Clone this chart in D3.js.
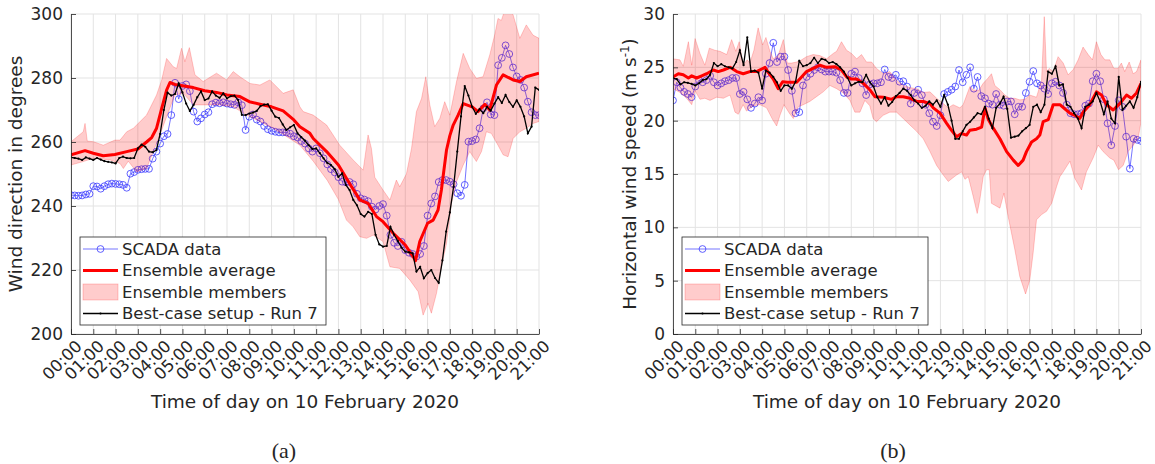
<!DOCTYPE html>
<html><head><meta charset="utf-8">
<script src="https://cdn.jsdelivr.net/npm/d3@7/dist/d3.min.js"></script>
<style>
body{margin:0;background:#fff}
svg{display:block}
text{font-family:"DejaVu Sans",sans-serif;fill:#262626}
</style>
</head><body>
<svg id="c" width="1155" height="464"></svg>
<script>
// ---------------- DATA ----------------
const timeLabels = ["00:00","01:00","02:00","03:00","04:00","05:00","06:00","07:00","08:00","09:00","10:00",
  "11:00","12:00","13:00","14:00","15:00","16:00","17:00","18:00","19:00","20:00","21:00"];
const dirTicks = [200,220,240,260,280,300];
const spdTicks = [0,5,10,15,20,25,30];

// 10-minute series (00:00 ... 21:00)
const scadaDir = [243.4,243.3,243.2,243.3,243.6,243.8, 246.2,246.1,245.4,246.2,246.8,247.0,
  246.9,246.8,246.6,245.7,250.1,250.6, 251.3,251.5,251.6,251.6,254.8,257.0,
  259.5,261.8,262.5,268.4,278.5,273.4, 277.5,278.0,275.9,269.5,266.4,267.4,
  268.6,269.3,271.8,272.3,272.1,272.4, 272.0,271.8,271.6,272.4,271.5,263.75,
  267.9,268.6,267.0,266.4,265.0,264.0, 263.5,263.2,263.0,263.0,263.0,262.6,
  261.8,261.4,260.3,259.5,258.0,257.0, 258.0,256.5,254.9,253.0,251.5,250.5,
  249.0,247.6,247.4,247.5,246.8,243.8, 242.4,242.0,241.5,239.8,238.9,240.0,
  240.6,237.0,231.0,228.5,227.5,228.8, 226.2,225.4,225.0,224.2,225.0,227.5,
  237.0,240.8,243.0,247.5,248.1,248.1, 247.6,246.8,244.0,243.2,246.6,260.1,
  260.3,260.8,264.3,270.5,272.4,268.6, 268.4,284.0,286.3,290.2,287.5,283.3,
  280.5,279.4,277.0,272.6,269.3,268.4,268.4];
const run7Dir = [255.2,255.0,254.8,254.4,255.2,254.8, 254.4,255.0,254.5,254.0,253.8,253.6,
  253.3,255.0,255.4,255.0,254.9,255.0, 258.0,259.2,258.5,257.0,256.8,257.5,
  262.5,270.0,275.4,274.5,275.0,278.3, 275.5,272.0,269.7,271.6,274.0,275.8,
  273.1,273.6,275.8,274.5,273.8,275.2, 273.6,274.3,274.5,273.1,268.5,268.4,
  268.9,269.2,269.7,271.2,271.7,271.8, 269.8,267.9,267.5,265.5,263.75,264.6,
  265.3,262.7,261.5,260.4,259.0,257.8, 258.0,256.5,254.9,253.5,252.8,251.5,
  249.1,250.2,246.6,245.0,241.9,240.2, 237.5,236.7,238.2,237.5,231.0,228.0,
  227.3,227.5,233.5,231.0,229.0,227.0, 225.7,225.5,225.2,219.5,221.0,217.4,
  219.0,220.0,217.5,216.0,223.0,232.0, 238.0,246.0,257.0,268.0,277.5,274.5,
  271.0,268.8,270.3,269.0,271.0,269.8, 272.0,274.0,272.2,274.7,272.5,271.0,
  273.0,271.0,268.0,262.7,264.8,277.0,276.3];
const scadaSpd = [21.9,23.6,23.1,22.7,22.5,22.2, 23.2,23.8,23.6,23.8,24.2,23.6,
  23.3,23.5,23.7,23.8,24.0,24.0, 22.5,22.7,22.0,21.2,21.6,22.2,
  21.9,24.4,25.4,27.3,25.5,26.0, 26.0,24.75,22.8,20.7,20.8,23.3,
  24.1,24.4,24.75,25.0,24.8,24.6, 24.6,24.6,24.5,23.8,22.6,22.6,
  24.4,24.6,24.0,23.5,22.4,23.4, 23.5,23.5,23.6,24.8,24.1,24.0,
  24.3,23.65,23.7,23.2,21.6,22.6, 22.9,22.4,21.5,20.7,19.9,19.5,
  20.5,22.5,22.7,22.9,23.2,24.75, 23.6,24.3,25.0,23.0,24.1,22.3,
  22.1,21.6,21.5,22.5,21.5,21.4, 21.8,21.8,20.6,21.3,21.3,22.6,
  23.65,24.65,23.5,23.3,23.0,22.5, 23.5,23.65,23.3,22.6,21.5,20.7,
  20.6,20.6,20.7,21.4,21.6,23.7, 24.4,23.7,22.0,19.75,17.7,19.5,
  21.9,21.3,18.5,15.5,18.3,18.2,18.1];
const run7Spd = [24.0,23.9,23.4,23.6,23.55,23.45, 23.3,23.5,23.8,23.9,24.3,25.4,
  25.1,25.3,25.1,25.0,24.9,25.5, 26.6,25.2,27.8,24.6,24.7,24.5,
  23.0,24.7,24.5,24.1,23.6,22.8, 23.3,23.3,23.0,23.65,25.6,25.1,
  25.2,25.4,25.9,25.4,25.8,25.7, 25.4,25.5,25.3,25.0,24.6,24.0,
  23.3,23.5,23.65,23.6,24.3,23.6, 23.2,22.2,21.6,22.2,21.4,21.75,
  22.3,22.6,23.0,22.8,22.4,21.9, 21.6,21.2,21.4,21.8,21.5,21.9,
  21.3,22.4,21.5,20.0,18.3,18.3, 19.0,19.6,19.9,20.3,20.7,20.6,
  21.3,20.2,19.3,21.2,21.6,22.25, 21.1,18.4,18.5,18.6,19.0,19.3,
  19.6,21.3,21.5,20.8,21.5,24.6, 24.4,25.1,23.3,23.4,21.5,21.3,
  20.7,20.2,19.3,21.3,21.5,21.8, 22.6,21.8,20.6,21.8,20.2,19.75,
  24.1,21.0,21.4,21.8,21.2,22.2,23.65];

// Ensemble (times in hours)
const ensAvgDirT = [0,0.63,1.0,1.45,1.97,2.5,3.0,3.39,3.62,3.84,4.07,4.29,4.44,4.66,5.0,5.49,6.0,6.53,7.0,7.58,8.0,8.48,9.0,9.52,10.0,10.27,10.72,10.87,11.47,12.0,12.5,12.96,13.33,13.71,14.0,14.46,15.0,15.35,15.46,15.65,16.0,16.25,16.47,16.62,16.73,16.85,17.0,17.15,17.37,17.6,18.0,18.27,18.57,18.79,19.09,19.39,19.84,20.14,20.43,21.0];
const ensAvgDir = [256,257.3,256.5,255.7,256.1,257,257.8,260,261.4,264.3,270.5,276.2,278.6,278,277.6,277,276,275.5,274.7,274.2,272.6,271.8,271,269.7,266.9,264.8,262.7,261.1,257,252.8,247,241.9,240.8,236.7,235.1,231.5,227.8,224.2,222.9,228.9,234.6,235.6,238.75,245,251,257.5,262,265.3,268.4,272,271,269.5,271.8,270,277.8,281,279.4,278.9,280.4,281.5];
const ensMaxDirT = [0,0.55,0.63,0.73,1.0,1.45,1.97,2.2,2.5,2.8,3.39,3.84,4.07,4.29,4.59,4.74,4.96,5.11,5.31,5.56,5.93,6.53,6.98,7.28,7.58,8.03,8.48,8.92,9.52,9.97,10.27,10.42,10.87,11.47,12.06,12.66,13.11,13.33,13.48,13.63,14.0,14.31,14.6,14.75,15.05,15.28,15.5,15.73,15.92,16.1,16.32,16.55,16.77,17.0,17.3,17.6,17.89,18.19,18.49,18.79,19.01,19.16,19.31,19.54,19.84,20.14,20.43,20.73,21.0];
const ensMaxDir = [260.1,263.2,265.8,260.3,260.1,259,260.6,260.6,263.2,264.3,268.4,274.7,279.4,286.1,283.5,283,289.3,285.1,289.5,281,278.9,281.5,279.4,282,280.4,278.3,277.8,279.4,275.2,276.3,271,269.5,268.4,265.3,259,254.4,251.2,262.2,258,249,245,241.9,248.1,246,250,258,269.5,273.6,280.4,271.6,264.8,267.4,272.6,268.4,278.9,287.7,283,279.9,280.4,287.2,293.4,298.6,298,302.8,299.7,292.4,296.6,293.4,292.4];
const ensMinDirT = [0,0.55,1.0,1.75,2.2,2.35,2.57,2.94,3.39,3.69,3.99,4.29,4.66,5.04,5.49,5.93,6.68,7.28,7.88,8.48,9.07,9.67,10.27,10.87,11.5,12.0,12.36,12.66,12.96,13.26,13.56,14.0,14.31,14.75,15.2,15.58,15.8,16.02,16.17,16.4,16.62,16.85,17.07,17.3,17.6,17.89,18.19,18.42,18.64,18.86,19.16,19.39,19.61,19.84,20.14,20.43,20.73,21.0];
const ensMinDir = [252.8,253.9,254.9,254.4,253.3,251.7,254.0,250.7,251.7,257,262.2,267.9,274.7,275.2,271.6,271.6,271.6,271,268.4,266.4,264.3,261.7,259,254,248,242,235.6,233.5,230.4,229.9,230.9,228.9,221,220.5,216.9,213.2,205.9,209.6,206.5,212.7,221,228.3,240.8,247.6,252.8,257,253.9,257,263.2,262.7,259,256,255.4,261.1,263.2,264.3,265.8,266.4];

const ensAvgSpdT = [0,0.24,0.46,0.69,0.84,1.06,1.29,1.51,1.81,2.03,2.26,2.56,2.86,3.15,3.45,3.75,4.13,4.28,4.5,4.72,4.92,5.13,5.32,5.55,5.77,5.99,6.29,6.59,6.89,7.26,7.56,7.79,8.01,8.24,8.54,8.83,9.06,9.43,9.81,10.03,10.33,10.63,10.93,11.23,11.53,11.68,11.98,12.28,12.5,12.72,12.95,13.17,13.32,13.62,13.85,14.0,14.15,14.37,14.67,14.97,15.27,15.49,15.71,15.86,16.09,16.31,16.46,16.61,16.84,17.06,17.36,17.58,17.81,18.03,18.25,18.4,18.7,19.0,19.23,19.45,19.75,20.05,20.35,20.57,20.8,21.0];
const ensAvgSpd = [24.1,24.4,24.3,24.0,24.2,24.0,24.2,24.4,24.75,24.6,24.75,25.0,24.6,24.4,24.6,24.6,25.0,24.5,23.9,23.0,23.65,23.6,23.6,23.6,24.1,24.6,24.9,25.2,25.0,25.06,24.75,24.1,23.9,23.9,23.5,22.9,22.25,22.2,22.0,22.25,22.25,22.1,21.8,21.8,21.6,21.2,20.7,19.75,19.1,18.5,18.8,18.65,19.1,19.2,19.4,21.2,20.1,19.3,18.3,17.1,16.3,15.8,16.3,17.1,18.0,18.3,18.65,19.9,20.1,21.5,21.5,21.1,20.7,20.5,20.2,20.8,21.5,22.7,22.4,21.5,21.0,21.6,22.4,22.1,22.6,23.5];
const ensMaxSpdT = [0,0.31,0.46,0.69,0.84,0.99,1.21,1.43,1.63,1.88,2.11,2.41,2.63,2.82,2.97,3.15,3.33,3.45,3.63,3.82,4.02,4.17,4.35,4.5,4.72,4.95,5.13,5.32,5.55,5.77,5.99,6.29,6.59,6.89,7.19,7.34,7.56,7.79,8.01,8.24,8.46,8.68,8.91,9.13,9.43,9.73,10.03,10.33,10.63,10.93,11.23,11.53,11.83,12.13,12.35,12.57,12.87,13.02,13.25,13.32,13.47,13.7,13.92,14.14,14.29,14.44,14.67,14.89,15.12,15.34,15.56,15.79,16.01,16.31,16.54,16.66,16.76,16.88,17.06,17.28,17.51,17.73,17.96,18.18,18.4,18.63,18.82,19.0,19.2,19.38,19.6,19.78,19.97,20.12,20.27,20.47,20.65,20.8,21.0];
const ensMaxSpd = [25.8,25.7,25.1,27.4,25.2,27.7,26.3,25.2,26.8,26.6,26.5,26.2,27.6,26.5,27.4,25.2,25.7,25.4,26.6,28.7,27.1,27.8,26.5,25.8,26.1,27.6,25.4,25.4,25.5,25.7,26.0,26.2,26.1,25.8,26.3,26.5,27.4,26.6,26.3,25.8,26.2,25.5,25.5,24.9,24.4,24.6,23.8,23.3,23.1,23.0,22.65,22.7,22.1,21.6,21.2,21.5,21.2,21.5,22.8,23.2,22.9,22.8,23.5,24.0,24.4,23.3,22.9,22.4,22.1,22.1,21.95,22.0,22.4,22.2,23.8,29.75,24.6,24.9,24.6,26.0,25.4,24.3,24.8,25.7,26.9,26.2,25.7,27.4,26.2,25.7,25.7,24.9,24.9,25.4,24.6,25.5,24.4,24.6,25.7];
const ensMinSpdT = [0,0.31,0.61,0.84,0.99,1.21,1.43,1.66,1.96,2.26,2.56,2.78,2.93,3.15,3.3,3.6,3.9,4.2,4.47,4.65,4.8,4.98,5.22,5.4,5.62,5.85,6.14,6.44,6.74,7.04,7.34,7.64,7.94,8.16,8.39,8.61,8.83,8.98,9.13,9.43,9.73,10.03,10.33,10.63,10.93,11.23,11.53,11.83,12.13,12.35,12.72,12.95,13.1,13.25,13.47,13.65,13.77,13.92,14.07,14.19,14.29,14.67,14.85,15.04,15.34,15.56,15.82,16.01,16.16,16.31,16.54,16.76,16.99,17.21,17.36,17.51,17.81,18.03,18.33,18.55,18.85,19.08,19.3,19.6,19.78,19.99,20.2,20.42,20.65,20.87,21.0];
const ensMinSpd = [23.0,22.65,22.1,21.5,22.8,22.0,22.1,21.9,22.2,22.1,22.4,20.8,20.6,21.5,20.9,21.4,21.5,21.2,20.1,19.5,20.5,21.5,20.7,20.2,21.3,21.5,21.8,22.25,22.7,23.3,23.0,22.6,21.9,20.8,20.8,21.9,21.4,20.2,19.9,20.5,20.8,20.8,20.2,19.6,19.0,18.3,17.1,15.8,14.9,14.3,14.9,15.2,14.5,14.75,12.9,11.3,12.6,14.75,15.4,15.4,12.25,11.8,13.2,11.0,7.9,5.4,3.75,5.06,7.6,10.7,11.2,11.5,12.25,13.8,14.75,15.2,16.2,14.6,13.5,15.2,16.5,17.7,17.1,16.5,16.3,15.4,15.8,17.1,17.7,18.3,19.9];

const legendLabels = ["SCADA data","Ensemble average","Ensemble members","Best-case setup - Run 7"];
const xTitle = "Time of day on 10 February 2020";

// ---------------- DRAW ----------------
const svg = d3.select('#c');
const AX = '#262626';
const TOP = 14, BOT = 334, W = 468;

function zip(t, v){ return t.map((d,i)=>[d, v[i]]); }
function tenMin(v){ return v.map((d,i)=>[i/6, d]); }

function panel(o){
  const x = d3.scaleLinear().domain([0,21]).range([o.left, o.left + W]);
  const y = d3.scaleLinear().domain([o.ticks[0], o.ticks[o.ticks.length-1]]).range([BOT, TOP]);
  const g = svg.append('g');
  const cid = 'clip' + o.id;
  svg.append('clipPath').attr('id', cid).append('rect')
    .attr('x', o.left).attr('y', TOP).attr('width', W).attr('height', BOT - TOP);

  // grid
  const grid = g.append('g').attr('stroke', '#e3e3e3').attr('stroke-width', 1);
  grid.selectAll('line.v').data(d3.range(timeLabels.length)).join('line')
    .attr('x1', d => x(d)).attr('x2', d => x(d)).attr('y1', TOP).attr('y2', BOT);
  grid.selectAll('line.h').data(o.ticks).join('line')
    .attr('x1', o.left).attr('x2', o.left + W).attr('y1', d => y(d)).attr('y2', d => y(d));

  const plot = g.append('g').attr('clip-path', `url(#${cid})`);
  const line = d3.line().x(d => x(d[0])).y(d => y(d[1]));

  // SCADA
  const sc = tenMin(o.scada);
  plot.append('path').attr('d', line(sc)).attr('fill', 'none').attr('stroke', '#3a3aff').attr('stroke-width', 0.7);
  plot.selectAll('circle.sc').data(sc).join('circle')
    .attr('cx', d => x(d[0])).attr('cy', d => y(d[1])).attr('r', 3.4)
    .attr('fill', 'none').attr('stroke', '#3a3aff').attr('stroke-width', 0.8);

  // ensemble average
  plot.append('path').attr('d', line(zip(o.avgT, o.avg))).attr('fill', 'none')
    .attr('stroke', '#ff0000').attr('stroke-width', 3).attr('stroke-linejoin', 'round');

  // ensemble band
  const band = zip(o.maxT, o.max).concat(zip(o.minT, o.min).reverse());
  plot.append('path').attr('d', line(band) + 'Z').attr('fill', '#ff0000').attr('fill-opacity', 0.2)
    .attr('stroke', '#ff0000').attr('stroke-opacity', 0.25).attr('stroke-width', 0.8);

  // run 7
  const r7 = tenMin(o.run7);
  plot.append('path').attr('d', line(r7)).attr('fill', 'none').attr('stroke', '#000').attr('stroke-width', 1.3);
  plot.selectAll('circle.r7').data(r7).join('circle')
    .attr('cx', d => x(d[0])).attr('cy', d => y(d[1])).attr('r', 1.1).attr('fill', '#000');

  // axes
  const xa = g.append('g').attr('transform', `translate(0,${BOT})`)
    .call(d3.axisBottom(x).tickValues(d3.range(timeLabels.length)).tickFormat((d,i) => timeLabels[i])
      .tickSizeInner(-5).tickSizeOuter(0));
  xa.select('.domain').attr('stroke', AX).attr('stroke-width', 0.8);
  xa.selectAll('.tick line').attr('stroke', AX).attr('stroke-width', 0.8);
  xa.selectAll('.tick text').attr('x', 0).attr('y', 0).attr('dy', '0.72em')
    .attr('text-anchor', 'end').attr('transform', 'translate(3,5) rotate(-45)')
    .style('font-size', '16.5px').style('font-family', '"DejaVu Sans",sans-serif').attr('fill', AX);

  const ya = g.append('g').attr('transform', `translate(${o.left},0)`)
    .call(d3.axisLeft(y).tickValues(o.ticks).tickSizeInner(-5).tickSizeOuter(0).tickPadding(8));
  ya.select('.domain').attr('stroke', AX).attr('stroke-width', 0.8);
  ya.selectAll('.tick line').attr('stroke', AX).attr('stroke-width', 0.8);
  ya.selectAll('.tick text').style('font-size', '17px').style('font-family', '"DejaVu Sans",sans-serif').attr('fill', AX);

  // labels
  g.append('text').attr('x', o.left + W/2).attr('y', 408).attr('text-anchor', 'middle')
    .style('font-size', '18.5px').text(xTitle);
  const yl = g.append('text').attr('transform', `translate(${o.ylx},${(TOP+BOT)/2}) rotate(-90)`)
    .attr('text-anchor', 'middle').style('font-size', '18.5px');
  o.ylabel(yl);
  g.append('text').attr('x', o.capX).attr('y', 458).attr('text-anchor', 'middle')
    .style('font-family', '"Liberation Serif","Times New Roman",serif').style('font-size', '22px').attr('fill','#000')
    .text(o.cap);

  // legend
  const lx = o.left + 9, ly = 237;
  const lg = g.append('g');
  lg.append('rect').attr('x', lx).attr('y', ly).attr('width', 246).attr('height', 88)
    .attr('fill', '#fff').attr('stroke', AX).attr('stroke-width', 0.8);
  const rows = [249, 270.5, 292, 313.5];
  const s0 = lx + 3, s1 = lx + 38;
  lg.append('line').attr('x1', s0).attr('x2', s1).attr('y1', rows[0]).attr('y2', rows[0]).attr('stroke', '#3a3aff').attr('stroke-width', 0.7);
  lg.append('circle').attr('cx', (s0+s1)/2).attr('cy', rows[0]).attr('r', 3.4).attr('fill', 'none').attr('stroke', '#3a3aff').attr('stroke-width', 0.8);
  lg.append('line').attr('x1', s0).attr('x2', s1).attr('y1', rows[1]).attr('y2', rows[1]).attr('stroke', '#ff0000').attr('stroke-width', 3);
  lg.append('rect').attr('x', s0).attr('y', rows[2] - 8).attr('width', s1 - s0).attr('height', 16)
    .attr('fill', '#ff0000').attr('fill-opacity', 0.2).attr('stroke', '#ff0000').attr('stroke-opacity', 0.25).attr('stroke-width', 0.8);
  lg.append('line').attr('x1', s0).attr('x2', s1).attr('y1', rows[3]).attr('y2', rows[3]).attr('stroke', '#000').attr('stroke-width', 1.3);
  lg.append('circle').attr('cx', (s0+s1)/2).attr('cy', rows[3]).attr('r', 1.1).attr('fill', '#000');
  lg.selectAll('text.l').data(legendLabels).join('text')
    .attr('x', lx + 42).attr('y', (d,i) => rows[i]).attr('dy', '0.36em')
    .style('font-size', '16.5px').attr('fill', '#000').text(d => d);
}

panel({id:'a', left:71, ticks:dirTicks, scada:scadaDir, run7:run7Dir,
  avgT:ensAvgDirT, avg:ensAvgDir, maxT:ensMaxDirT, max:ensMaxDir, minT:ensMinDirT, min:ensMinDir,
  ylx:22, cap:'(a)', capX:284,
  ylabel: t => t.text('Wind direction in degrees')});

panel({id:'b', left:673, ticks:spdTicks, scada:scadaSpd, run7:run7Spd,
  avgT:ensAvgSpdT, avg:ensAvgSpd, maxT:ensMaxSpdT, max:ensMaxSpd, minT:ensMinSpdT, min:ensMinSpd,
  ylx:636, cap:'(b)', capX:893,
  ylabel: t => { t.append('tspan').text('Horizontal wind speed (m s');
                 t.append('tspan').attr('baseline-shift','super').style('font-size','12px').text('-1');
                 t.append('tspan').text(')'); }});
</script>
</body></html>
